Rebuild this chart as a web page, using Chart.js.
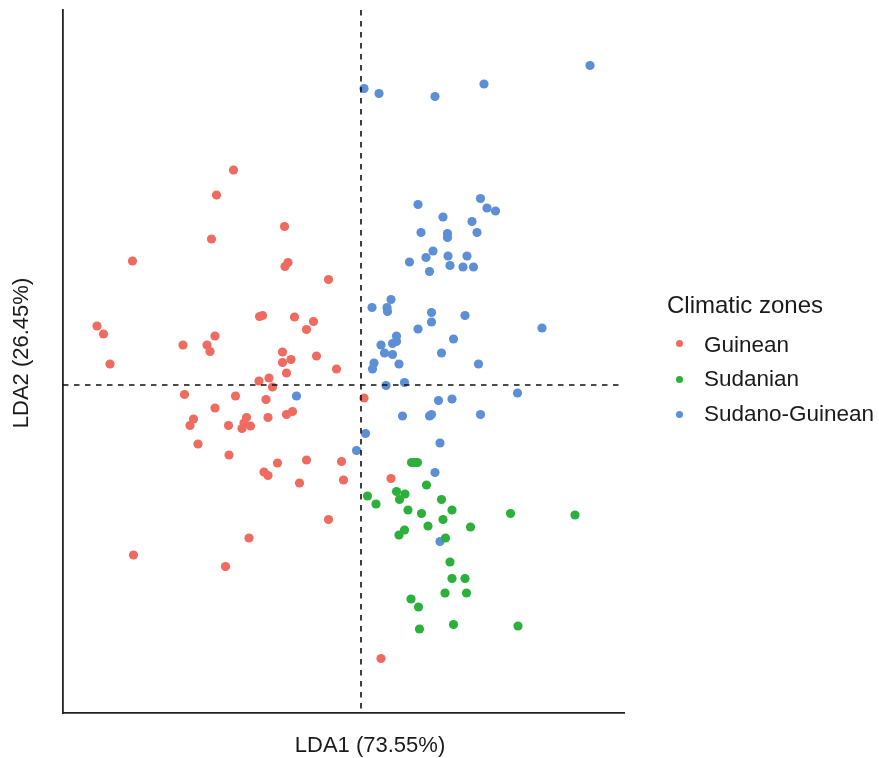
<!DOCTYPE html>
<html>
<head>
<meta charset="utf-8">
<script src="https://cdn.jsdelivr.net/npm/chart.js@4"></script>
<style>
  html, body { margin: 0; padding: 0; background: #fff; }
  #wrap { position: relative; width: 879px; height: 758px; font-family: "Liberation Sans", Arial, sans-serif; color: #1a1a1a; }
  #ldaChart { position: absolute; left: 0; top: 0; }
  .lg { position: absolute; white-space: nowrap; line-height: 1; }
  .lg-title { left: 667px; top: 293px; font-size: 24px; }
  .lg-item { left: 704px; font-size: 22.5px; }
  .dot { position: absolute; left: 676px; width: 7px; height: 7px; border-radius: 50%; }
</style>
</head>
<body>
<div id="wrap">
  <canvas id="ldaChart" width="879" height="758"></canvas>
  <div class="lg lg-title">Climatic zones</div>
  <span class="dot" style="top:340px;background:#EF6B60"></span>
  <div class="lg lg-item" style="top:334px">Guinean</div>
  <span class="dot" style="top:376px;background:#2BB13B"></span>
  <div class="lg lg-item" style="top:368px">Sudanian</div>
  <span class="dot" style="top:411px;background:#5C8FD6"></span>
  <div class="lg lg-item" style="top:403px">Sudano-Guinean</div>
</div>
<script>
// LDA scores: [LDA1, LDA2]
const guinean = [
  [-2.55, 4.30], [-2.89, 3.80], [-2.99, 2.92], [-1.53, 3.17], [-4.57, 2.48], [-1.46, 2.45], [-1.52, 2.37], [-0.65, 2.11],
  [-5.28, 1.18], [-5.15, 1.02], [-5.02, 0.42], [-3.56, 0.80], [-3.08, 0.80], [-3.02, 0.67], [-2.92, 0.98],
  [-2.03, 1.37], [-1.97, 1.39], [-1.33, 1.36], [-0.95, 1.27], [-1.09, 1.11], [-1.57, 0.66], [-1.57, 0.45], [-1.40, 0.51],
  [-0.89, 0.58], [-1.49, 0.24], [-0.49, 0.32], [-1.84, 0.14], [-2.04, 0.08], [-1.77, -0.04],
  [-3.53, -0.19], [-2.51, -0.22], [-1.90, -0.29], [-2.92, -0.46], [-3.35, -0.68], [-3.42, -0.81], [-2.65, -0.81],
  [-2.29, -0.65], [-2.34, -0.76], [-2.38, -0.87], [-2.21, -0.82], [-1.86, -0.65], [-1.49, -0.59], [-1.37, -0.53],
  [-3.26, -1.18], [-2.64, -1.40], [-1.67, -1.56], [-1.09, -1.50], [-0.39, -1.53], [-1.94, -1.74], [-1.86, -1.81],
  [-1.23, -1.96], [-0.35, -1.90], [0.60, -1.87], [0.06, -0.26],
  [-0.65, -2.69], [-2.24, -3.06], [-4.55, -3.40], [-2.71, -3.63], [0.40, -5.47]
];

const sudanian = [
  [1.01, -1.55], [1.07, -1.55], [1.13, -1.55], [1.31, -2.00], [0.71, -2.13], [0.88, -2.18], [0.77, -2.29],
  [0.13, -2.22], [0.30, -2.38], [1.61, -2.29], [0.94, -2.50], [1.21, -2.57], [1.82, -2.50], [1.64, -2.69],
  [2.99, -2.57], [4.28, -2.60], [1.34, -2.82], [2.19, -2.84], [0.87, -2.90], [0.76, -3.00], [1.69, -3.06],
  [1.78, -3.54], [1.82, -3.87], [2.08, -3.87], [1.68, -4.16], [2.11, -4.16], [1.00, -4.28], [1.15, -4.44],
  [1.85, -4.79], [3.14, -4.82], [1.17, -4.88]
];

const sudanoGuinean = [
  [0.06, 5.93], [0.36, 5.83], [1.48, 5.77], [2.46, 6.02], [4.58, 6.39],
  [2.39, 3.73], [2.52, 3.54], [2.69, 3.48], [1.14, 3.61], [1.64, 3.36], [2.22, 3.27], [1.20, 3.05], [2.32, 3.05],
  [1.73, 3.03], [1.73, 2.95], [1.44, 2.68], [1.30, 2.55], [0.97, 2.46], [1.74, 2.58], [2.12, 2.58], [1.78, 2.39],
  [2.04, 2.36], [2.25, 2.36], [1.37, 2.27],
  [0.60, 1.71], [0.22, 1.55], [0.52, 1.55], [0.53, 1.47], [1.41, 1.45], [2.08, 1.39], [1.41, 1.26], [1.14, 1.12],
  [3.62, 1.14], [0.71, 0.98], [0.63, 0.83], [0.71, 0.87], [0.40, 0.80], [1.85, 0.92], [0.47, 0.64], [0.63, 0.61],
  [1.61, 0.64], [0.26, 0.44], [0.23, 0.32], [0.76, 0.42], [2.35, 0.42],
  [0.50, -0.01], [0.87, 0.05], [3.13, -0.16], [1.55, -0.31], [1.82, -0.28], [-1.29, -0.22], [0.83, -0.62],
  [1.37, -0.62], [1.41, -0.59], [2.39, -0.59], [0.09, -0.97], [-0.09, -1.31], [1.58, -1.16], [1.48, -1.75],
  [1.58, -3.13]
];

const zoneNames = ['Guinean', 'Sudanian', 'Sudano-Guinean'];
const zoneColors = ['#EF6B60', '#2BB13B', '#5C8FD6'];
const axisTitles = ['LDA1 (73.55%)', 'LDA2 (26.45%)'];

const toXY = pts => pts.map(p => ({ x: p[0], y: p[1] }));

// dashed zero lines + axis titles
const refLines = {
  id: 'refLines',
  afterDatasetsDraw(chart) {
    const { ctx, chartArea: a, scales: { x, y } } = chart;
    const x0 = x.getPixelForValue(0);
    const y0 = y.getPixelForValue(0);
    ctx.save();
    ctx.strokeStyle = '#111';
    ctx.lineWidth = 1.6;
    ctx.setLineDash([5.5, 5.5]);
    ctx.beginPath();
    ctx.moveTo(x0, a.top); ctx.lineTo(x0, a.bottom);
    ctx.moveTo(a.left, y0); ctx.lineTo(a.right, y0);
    ctx.stroke();
    ctx.restore();
  },
  afterDraw(chart) {
    const ctx = chart.ctx;
    ctx.save();
    ctx.fillStyle = '#1a1a1a';
    ctx.font = '22px "Liberation Sans", Arial, sans-serif';
    ctx.textAlign = 'center';
    ctx.textBaseline = 'middle';
    ctx.fillText(axisTitles[0], 370, 746);
    ctx.translate(22, 353);
    ctx.rotate(-Math.PI / 2);
    ctx.fillText(axisTitles[1], 0, 0);
    ctx.restore();
  }
};

new Chart(document.getElementById('ldaChart'), {
  type: 'scatter',
  data: {
    datasets: [guinean, sudanian, sudanoGuinean].map((pts, i) => ({
      label: zoneNames[i],
      data: toXY(pts),
      backgroundColor: zoneColors[i],
      borderWidth: 0,
      pointRadius: 4.6,
      pointHoverRadius: 4.6
    }))
  },
  options: {
    responsive: false,
    animation: false,
    layout: { autoPadding: false, padding: { left: 63, right: 255, top: 10, bottom: 45 } },
    plugins: { legend: { display: false }, tooltip: { enabled: false } },
    scales: {
      x: {
        min: -5.96, max: 5.26,
        grid: { display: false, drawTicks: false },
        ticks: { display: false },
        border: { color: '#222', width: 1.8 }
      },
      y: {
        min: -6.56, max: 7.5,
        grid: { display: false, drawTicks: false },
        ticks: { display: false },
        border: { color: '#222', width: 1.8 }
      }
    }
  },
  plugins: [refLines]
});
</script>
</body>
</html>
